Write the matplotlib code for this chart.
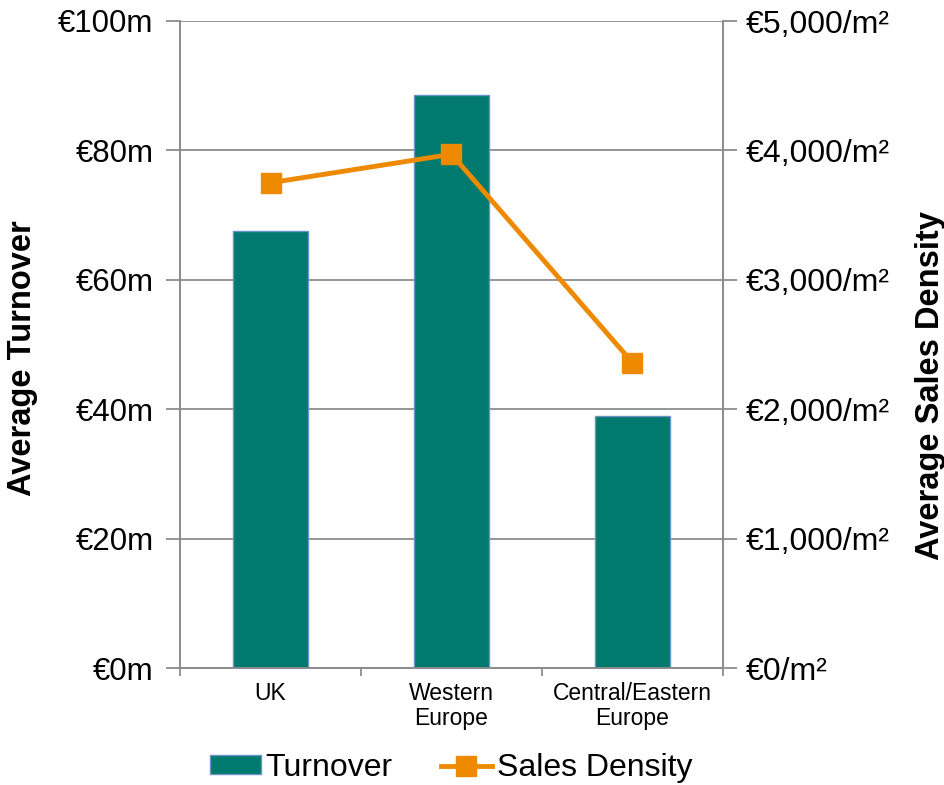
import matplotlib
matplotlib.use("Agg")
import matplotlib.pyplot as plt
from matplotlib.ticker import FuncFormatter, FixedLocator
from matplotlib.lines import Line2D
from matplotlib.patches import Patch

categories = ["UK", "Western\nEurope", "Central/Eastern\nEurope"]
turnover_m = [67.6, 88.6, 39.0]
sales_density = [3750, 3970, 2360]
left_ticks = [0, 20, 40, 60, 80, 100]
right_ticks = [0, 1000, 2000, 3000, 4000, 5000]

plt.rcParams['font.family'] = ['Liberation Sans', 'DejaVu Sans']

fig = plt.figure(figsize=(9.44, 7.85), dpi=100)
ax = fig.add_axes([180/944, 1-668/785, (723-180)/944, (668-21)/785])
ax2 = ax.twinx()

teal = "#007A6E"
orange = "#EE8A00"
grid_c = "#8C8C8C"

x = list(range(len(categories)))
ax.bar(x, turnover_m, width=0.41, color=teal, edgecolor="#6B93C8", linewidth=1.0, zorder=3)
ax.set_xlim(-0.5, len(categories)-0.5)
ax.set_ylim(0, 100)
ax.yaxis.set_major_locator(FixedLocator(left_ticks))
ax.yaxis.set_major_formatter(FuncFormatter(lambda v, p: f"€{int(v)}m"))
ax.grid(axis='y', color=grid_c, linewidth=1.3, zorder=0)
ax.set_xticks(x)
ax.set_xticklabels(categories, fontsize=16.5, linespacing=1.1)
ax.set_xticks([i-0.5 for i in range(len(categories)+1)], minor=True)
ax.tick_params(axis='x', which='major', length=0, pad=10)
ax.tick_params(axis='x', which='minor', length=6, color=grid_c, width=1.3)
ax.tick_params(axis='y', labelsize=22.5, length=10, color=grid_c, width=1.3, pad=9)

ax2.plot(x, sales_density, color=orange, linewidth=3.5, marker='s', markersize=14.5,
         markeredgecolor=orange, zorder=4)
ax2.set_ylim(0, 5000)
ax2.yaxis.set_major_locator(FixedLocator(right_ticks))
ax2.yaxis.set_major_formatter(FuncFormatter(lambda v, p: f"€{int(v):,}/m²"))
ax2.tick_params(axis='y', labelsize=23, length=10, color=grid_c, width=1.3, pad=6)

for a in (ax, ax2):
    a.spines['top'].set_visible(False)
    for s in ('left', 'right', 'bottom'):
        a.spines[s].set_color(grid_c)
        a.spines[s].set_linewidth(1.3)

fig.text(23/944, 1-358/785, "Average Turnover", rotation=90, fontsize=23.5,
         fontweight='bold', ha='center', va='center')
fig.text(930/944, 1-386/785, "Average Sales Density", rotation=90, fontsize=23.5,
         fontweight='bold', ha='center', va='center')

handles = [Patch(facecolor=teal, edgecolor="#6B93C8", label="Turnover"),
           Line2D([0], [0], color=orange, linewidth=3.5, marker='s', markersize=14.5, label="Sales Density")]
fig.legend(handles=handles, loc='center', bbox_to_anchor=(451/944, 1-768/785), ncol=2,
           frameon=False, fontsize=23, handlelength=1.6, handleheight=0.55,
           handletextpad=0.15, columnspacing=1.5, borderpad=0, borderaxespad=0)

fig.savefig("out.png", dpi=100)
